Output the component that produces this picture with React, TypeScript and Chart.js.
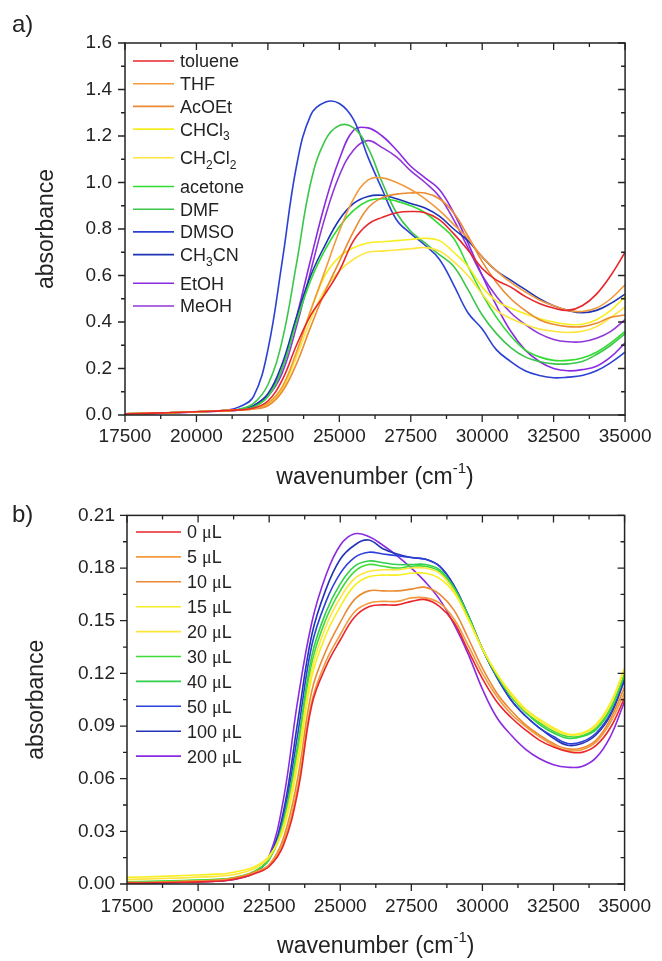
import React, { useEffect, useRef } from 'react';
import { Chart, registerables } from 'chart.js';

Chart.register(...registerables);

const FONT = '"Liberation Sans", Arial, Helvetica, sans-serif';
const SERIF = '"Liberation Serif", "Times New Roman", serif';
const INK = '#232323';

// ---------- shared x values (wavenumber, cm-1) ----------
const wavenumbers = [17500, 18500, 19500, 20500, 21000, 21500, 22000, 22500, 23000, 23500, 24000, 24500, 25000, 25500, 26000, 26500, 27000, 27500, 28000, 28500, 29000, 29500, 30000, 30500, 31000, 31500, 32000, 32500, 33000, 33500, 34000, 34500, 35000];

// ---------- panel a: solvents ----------
const solventLabels = ['toluene', 'THF', 'AcOEt', 'CHCl_3', 'CH_2Cl_2', 'acetone', 'DMF', 'DMSO', 'CH_3CN', 'EtOH', 'MeOH'];
const solventColors = ['#e8262c', '#f29a3c', '#ea8a32', '#f7ee20', '#fde53c', '#2fdc2f', '#3cc64a', '#2c40d4', '#1c33b4', '#8a2be2', '#9136d8'];

const absToluene = [0.005, 0.008, 0.012, 0.016, 0.019, 0.022, 0.03, 0.06, 0.15, 0.30, 0.43, 0.52, 0.62, 0.75, 0.82, 0.85, 0.87, 0.875, 0.87, 0.84, 0.78, 0.71, 0.63, 0.58, 0.55, 0.51, 0.48, 0.46, 0.45, 0.47, 0.52, 0.60, 0.70];
const absTHF = [0.005, 0.008, 0.012, 0.016, 0.019, 0.022, 0.027, 0.05, 0.12, 0.27, 0.45, 0.62, 0.79, 0.93, 1.01, 1.02, 1.0, 0.97, 0.93, 0.88, 0.82, 0.76, 0.68, 0.62, 0.57, 0.53, 0.495, 0.47, 0.45, 0.445, 0.46, 0.50, 0.56];
const absAcOEt = [0.005, 0.008, 0.012, 0.016, 0.019, 0.022, 0.026, 0.04, 0.10, 0.22, 0.38, 0.53, 0.66, 0.79, 0.89, 0.935, 0.95, 0.955, 0.955, 0.93, 0.87, 0.77, 0.66, 0.57, 0.50, 0.45, 0.41, 0.39, 0.38, 0.38, 0.395, 0.42, 0.43];
const absCHCl3 = [0.005, 0.008, 0.012, 0.016, 0.019, 0.022, 0.027, 0.05, 0.12, 0.27, 0.45, 0.60, 0.68, 0.72, 0.74, 0.745, 0.75, 0.755, 0.76, 0.75, 0.70, 0.64, 0.55, 0.49, 0.46, 0.435, 0.415, 0.40, 0.39, 0.39, 0.41, 0.45, 0.51];
const absCH2Cl2 = [0.005, 0.008, 0.012, 0.016, 0.019, 0.022, 0.026, 0.045, 0.11, 0.25, 0.41, 0.54, 0.62, 0.67, 0.70, 0.705, 0.71, 0.715, 0.72, 0.705, 0.66, 0.60, 0.52, 0.45, 0.415, 0.39, 0.37, 0.36, 0.355, 0.36, 0.38, 0.42, 0.465];
const absAcetone = [0.005, 0.008, 0.012, 0.016, 0.019, 0.023, 0.035, 0.08, 0.20, 0.40, 0.58, 0.71, 0.81, 0.88, 0.92, 0.93, 0.92, 0.90, 0.87, 0.82, 0.76, 0.64, 0.52, 0.42, 0.34, 0.28, 0.25, 0.235, 0.235, 0.245, 0.27, 0.31, 0.36];
const absDMF = [0.005, 0.008, 0.012, 0.016, 0.019, 0.025, 0.05, 0.13, 0.32, 0.65, 1.0, 1.18, 1.245, 1.235, 1.15, 1.0, 0.87, 0.79, 0.74, 0.69, 0.64, 0.54, 0.43, 0.35, 0.29, 0.25, 0.23, 0.22, 0.22, 0.23, 0.26, 0.30, 0.35];
const absDMSO = [0.005, 0.008, 0.012, 0.016, 0.02, 0.035, 0.08, 0.28, 0.66, 1.07, 1.29, 1.345, 1.34, 1.27, 1.11, 0.97, 0.84, 0.78, 0.73, 0.67, 0.56, 0.44, 0.37, 0.28, 0.23, 0.19, 0.17, 0.16, 0.163, 0.17, 0.19, 0.225, 0.27];
const absCH3CN = [0.005, 0.008, 0.012, 0.016, 0.019, 0.024, 0.04, 0.09, 0.22, 0.42, 0.60, 0.73, 0.84, 0.91, 0.94, 0.945, 0.93, 0.91, 0.89, 0.855, 0.80, 0.75, 0.68, 0.62, 0.58, 0.54, 0.50, 0.47, 0.45, 0.44, 0.45, 0.48, 0.52];
const absEtOH = [0.004, 0.007, 0.011, 0.015, 0.018, 0.022, 0.04, 0.09, 0.20, 0.42, 0.67, 0.91, 1.10, 1.225, 1.235, 1.20, 1.14, 1.07, 1.02, 0.97, 0.87, 0.74, 0.60, 0.47, 0.36, 0.28, 0.23, 0.20, 0.19, 0.195, 0.21, 0.25, 0.31];
const absMeOH = [0.004, 0.007, 0.011, 0.015, 0.018, 0.022, 0.035, 0.08, 0.18, 0.38, 0.62, 0.85, 1.03, 1.14, 1.18, 1.15, 1.11, 1.05, 1.00, 0.94, 0.84, 0.72, 0.60, 0.51, 0.44, 0.39, 0.35, 0.325, 0.315, 0.315, 0.33, 0.36, 0.41];

// ---------- panel b: added volume ----------
const volumeLabels = ['0 μL', '5 μL', '10 μL', '15 μL', '20 μL', '30 μL', '40 μL', '50 μL', '100 μL', '200 μL'];
const volumeColors = ['#e8262c', '#f29a3c', '#ea8a32', '#f7ee20', '#fde53c', '#3fdc3a', '#30d04a', '#2c40d8', '#2434b6', '#8a2be2'];

const absV0 = [0.0005, 0.0007, 0.001, 0.0015, 0.002, 0.0035, 0.006, 0.010, 0.022, 0.052, 0.102, 0.124, 0.139, 0.152, 0.158, 0.159, 0.159, 0.161, 0.162, 0.158, 0.149, 0.133, 0.117, 0.104, 0.095, 0.088, 0.082, 0.078, 0.0755, 0.075, 0.079, 0.089, 0.106];
const absV5 = [0.0008, 0.001, 0.0015, 0.002, 0.0025, 0.004, 0.0065, 0.011, 0.024, 0.055, 0.104, 0.127, 0.142, 0.155, 0.160, 0.161, 0.161, 0.163, 0.163, 0.160, 0.151, 0.136, 0.120, 0.107, 0.097, 0.090, 0.084, 0.079, 0.076, 0.0765, 0.081, 0.092, 0.109];
const absV10 = [0.0008, 0.001, 0.0015, 0.002, 0.0028, 0.0042, 0.007, 0.011, 0.026, 0.060, 0.110, 0.133, 0.149, 0.162, 0.167, 0.167, 0.167, 0.168, 0.169, 0.165, 0.156, 0.140, 0.123, 0.109, 0.099, 0.091, 0.085, 0.080, 0.077, 0.0775, 0.082, 0.094, 0.112];
const absV15 = [0.0038, 0.0042, 0.0048, 0.0055, 0.006, 0.0075, 0.010, 0.016, 0.031, 0.068, 0.118, 0.142, 0.158, 0.170, 0.175, 0.176, 0.176, 0.177, 0.177, 0.174, 0.166, 0.151, 0.134, 0.120, 0.109, 0.100, 0.094, 0.089, 0.0855, 0.086, 0.091, 0.103, 0.123];
const absV20 = [0.0025, 0.003, 0.0035, 0.0042, 0.0048, 0.0062, 0.009, 0.015, 0.033, 0.072, 0.122, 0.147, 0.163, 0.174, 0.178, 0.179, 0.179, 0.180, 0.180, 0.177, 0.167, 0.151, 0.134, 0.120, 0.108, 0.099, 0.093, 0.088, 0.085, 0.0855, 0.090, 0.102, 0.122];
const absV30 = [0.0012, 0.0016, 0.002, 0.0026, 0.003, 0.0045, 0.0075, 0.014, 0.034, 0.075, 0.126, 0.151, 0.167, 0.178, 0.182, 0.181, 0.180, 0.181, 0.181, 0.178, 0.168, 0.152, 0.134, 0.119, 0.107, 0.098, 0.092, 0.087, 0.084, 0.0845, 0.089, 0.100, 0.120];
const absV40 = [0.001, 0.0014, 0.0018, 0.0024, 0.0028, 0.0043, 0.0072, 0.014, 0.036, 0.079, 0.130, 0.155, 0.171, 0.181, 0.184, 0.183, 0.182, 0.182, 0.182, 0.179, 0.169, 0.153, 0.134, 0.119, 0.107, 0.098, 0.091, 0.086, 0.083, 0.084, 0.088, 0.099, 0.119];
const absV50 = [0.0008, 0.0011, 0.0014, 0.002, 0.0025, 0.004, 0.007, 0.014, 0.038, 0.085, 0.136, 0.161, 0.177, 0.186, 0.189, 0.188, 0.187, 0.186, 0.185, 0.181, 0.170, 0.153, 0.134, 0.118, 0.105, 0.096, 0.089, 0.084, 0.080, 0.081, 0.086, 0.097, 0.117];
const absV100 = [0.0006, 0.0009, 0.0012, 0.0018, 0.0023, 0.0038, 0.0068, 0.015, 0.041, 0.092, 0.142, 0.168, 0.185, 0.193, 0.196, 0.191, 0.188, 0.186, 0.185, 0.181, 0.170, 0.153, 0.134, 0.118, 0.105, 0.096, 0.089, 0.083, 0.079, 0.080, 0.085, 0.096, 0.116];
const absV200 = [0.0003, 0.0006, 0.001, 0.0015, 0.002, 0.0035, 0.0065, 0.016, 0.048, 0.104, 0.149, 0.176, 0.193, 0.1995, 0.198, 0.193, 0.187, 0.180, 0.172, 0.162, 0.148, 0.131, 0.111, 0.095, 0.085, 0.077, 0.0715, 0.068, 0.0665, 0.067, 0.072, 0.084, 0.104];

// axis settings
const xMin = 17500;
const xMax = 35000;
const xStep = 2500;
const yMaxA = 1.6;
const yStepA = 0.2;
const yMaxB = 0.21;
const yStepB = 0.03;

type Seg = { t: string; k: 'n' | 'sub' | 'sup' | 'mu' };

function parseLabel(s: string): Seg[] {
  const segs: Seg[] = [];
  let buf = '';
  const flush = () => { if (buf) { segs.push({ t: buf, k: 'n' }); buf = ''; } };
  for (let i = 0; i < s.length; i++) {
    const c = s[i];
    if (c === '_' && i + 1 < s.length) { flush(); segs.push({ t: s[i + 1], k: 'sub' }); i++; }
    else if (c === 'μ') { flush(); segs.push({ t: c, k: 'mu' }); }
    else buf += c;
  }
  flush();
  return segs;
}

function segFont(k: Seg['k'], size: number) {
  if (k === 'sub' || k === 'sup') return `${Math.round(size * 0.64)}px ${FONT}`;
  if (k === 'mu') return `${size}px ${SERIF}`;
  return `${size}px ${FONT}`;
}

function measureSegs(ctx: CanvasRenderingContext2D, segs: Seg[], size: number) {
  let w = 0;
  for (const s of segs) { ctx.font = segFont(s.k, size); w += ctx.measureText(s.t).width; }
  return w;
}

function drawSegs(ctx: CanvasRenderingContext2D, segs: Seg[], x: number, baseline: number, size: number) {
  let cx = x;
  ctx.textAlign = 'left';
  ctx.textBaseline = 'alphabetic';
  for (const s of segs) {
    ctx.font = segFont(s.k, size);
    let dy = 0;
    if (s.k === 'sub') dy = size * 0.26;
    if (s.k === 'sup') dy = -size * 0.5;
    ctx.fillText(s.t, cx, baseline + dy);
    cx += ctx.measureText(s.t).width;
  }
}

type Decor = {
  letter: string; letterBaseline: number;
  labels: string[]; colors: string[];
  lx1: number; lx2: number; ltx: number; ly0: number; lstep: number; lsubExtra: number; lsize: number;
  xTitleBaseline: number;
};

function makeDecorPlugin(d: Decor) {
  return {
    id: 'decor',
    afterDraw(chart: any) {
      const ctx: CanvasRenderingContext2D = chart.ctx;
      const { left, right, top, bottom } = chart.chartArea;
      const xs = chart.scales.x;
      const ys = chart.scales.y;
      ctx.save();
      // frame
      ctx.strokeStyle = INK;
      ctx.lineWidth = 1.5;
      ctx.strokeRect(left, top, right - left, bottom - top);
      // ticks
      ctx.lineWidth = 1.3;
      const MAJ = 7, MIN = 4;
      const majX: number[] = xs.ticks.map((t: any) => t.value);
      const minX = majX.slice(1).map((v, i) => (v + majX[i]) / 2);
      const majY: number[] = ys.ticks.map((t: any) => t.value);
      const minY = majY.slice(1).map((v, i) => (v + majY[i]) / 2);
      ctx.beginPath();
      const xt = (v: number, len: number) => {
        const p = xs.getPixelForValue(v);
        ctx.moveTo(p, bottom); ctx.lineTo(p, bottom + len);
        ctx.moveTo(p, top); ctx.lineTo(p, top + len);
      };
      const yt = (v: number, len: number) => {
        const p = ys.getPixelForValue(v);
        ctx.moveTo(left - len, p); ctx.lineTo(left, p);
        ctx.moveTo(right - len, p); ctx.lineTo(right, p);
      };
      majX.forEach((v) => xt(v, MAJ));
      minX.forEach((v) => xt(v, MIN));
      majY.forEach((v) => yt(v, MAJ));
      minY.forEach((v) => yt(v, MIN));
      ctx.stroke();

      // legend
      ctx.fillStyle = INK;
      let y = d.ly0;
      d.labels.forEach((lab, i) => {
        if (i > 0) y += d.lstep + (d.labels[i - 1].includes('_') ? d.lsubExtra : 0);
        ctx.strokeStyle = d.colors[i];
        ctx.lineWidth = 1.6;
        ctx.beginPath();
        ctx.moveTo(d.lx1, y);
        ctx.lineTo(d.lx2, y);
        ctx.stroke();
        drawSegs(ctx, parseLabel(lab), d.ltx, y + d.lsize * 0.358, d.lsize);
      });

      // x-axis title with superscript
      const title: Seg[] = [{ t: 'wavenumber (cm', k: 'n' }, { t: '-1', k: 'sup' }, { t: ')', k: 'n' }];
      const tsize = 23;
      const tw = measureSegs(ctx, title, tsize);
      drawSegs(ctx, title, (left + right) / 2 - tw / 2, d.xTitleBaseline, tsize);

      // panel letter
      ctx.font = `24px ${FONT}`;
      ctx.textAlign = 'left';
      ctx.textBaseline = 'alphabetic';
      ctx.fillText(d.letter, 12, d.letterBaseline);
      ctx.restore();
    },
  };
}

type PanelSpec = {
  height: number;
  padTop: number; padRight: number;
  yWidth: number; xHeight: number;
  yMax: number; yStep: number; dec: number;
  xPad: number; yPad: number; yTitlePad: number;
  series: number[][]; labels: string[]; colors: string[];
  decor: Decor;
};

function PanelChart({ spec, top }: { spec: PanelSpec; top: number }) {
  const ref = useRef<HTMLCanvasElement>(null);
  useEffect(() => {
    if (!ref.current) return;
    const chart = new Chart(ref.current, {
      type: 'line',
      data: {
        datasets: spec.series.map((vals, i) => ({
          label: spec.labels[i].replace(/_/g, ''),
          data: wavenumbers.map((w, j) => ({ x: w, y: vals[j] })),
          borderColor: spec.colors[i],
          backgroundColor: spec.colors[i],
          borderWidth: 1.6,
          pointRadius: 0,
          fill: false,
          tension: 0.4,
        })),
      },
      options: {
        responsive: false,
        animation: false,
        events: [],
        layout: { padding: { left: 0, top: spec.padTop, right: spec.padRight, bottom: 0 } },
        plugins: { legend: { display: false }, tooltip: { enabled: false }, title: { display: false } },
        scales: {
          x: {
            type: 'linear',
            min: xMin,
            max: xMax,
            grid: { display: false, drawTicks: false },
            border: { display: false },
            ticks: {
              stepSize: xStep,
              padding: spec.xPad,
              color: INK,
              autoSkip: false,
              maxRotation: 0,
              font: { family: FONT, size: 19 },
              callback: (v: any) => String(v),
            },
            afterFit: (s: any) => { s.height = spec.xHeight; },
          },
          y: {
            type: 'linear',
            min: 0,
            max: spec.yMax,
            grid: { display: false, drawTicks: false },
            border: { display: false },
            ticks: {
              stepSize: spec.yStep,
              padding: spec.yPad,
              color: INK,
              font: { family: FONT, size: 19 },
              callback: (v: any) => Number(v).toFixed(spec.dec),
            },
            title: {
              display: true,
              text: 'absorbance',
              color: INK,
              font: { family: FONT, size: 23 },
              padding: { top: spec.yTitlePad, bottom: 0 },
            },
            afterFit: (s: any) => { s.width = spec.yWidth; },
          },
        },
      },
      plugins: [makeDecorPlugin(spec.decor)],
    } as any);
    return () => chart.destroy();
  }, []);
  return (
    <canvas
      ref={ref}
      width={662}
      height={spec.height}
      style={{ position: 'absolute', left: 0, top, width: 662, height: spec.height, display: 'block' }}
    />
  );
}

const specA: PanelSpec = {
  height: 492,
  padTop: 43, padRight: 33,
  yWidth: 125, xHeight: 77,
  yMax: yMaxA, yStep: yStepA, dec: 1,
  xPad: 10.5, yPad: 13, yTitlePad: 33,
  series: [absToluene, absTHF, absAcOEt, absCHCl3, absCH2Cl2, absAcetone, absDMF, absDMSO, absCH3CN, absEtOH, absMeOH],
  labels: solventLabels,
  colors: solventColors,
  decor: {
    letter: 'a)', letterBaseline: 32,
    labels: solventLabels, colors: solventColors,
    lx1: 133, lx2: 174, ltx: 180, ly0: 61, lstep: 22.7, lsubExtra: 6, lsize: 18,
    xTitleBaseline: 484,
  },
};

const specB: PanelSpec = {
  height: 469,
  padTop: 20, padRight: 30,
  yWidth: 127, xHeight: 77,
  yMax: yMaxB, yStep: yStepB, dec: 2,
  xPad: 11, yPad: 12, yTitlePad: 23,
  series: [absV0, absV5, absV10, absV15, absV20, absV30, absV40, absV50, absV100, absV200],
  labels: volumeLabels,
  colors: volumeColors,
  decor: {
    letter: 'b)', letterBaseline: 30,
    labels: volumeLabels, colors: volumeColors,
    lx1: 136, lx2: 181, ltx: 187, ly0: 40, lstep: 24.9, lsubExtra: 0, lsize: 18,
    xTitleBaseline: 461,
  },
};

export default function App() {
  return (
    <div style={{ position: 'absolute', left: 0, top: 0, width: 662, height: 961, background: '#ffffff' }}>
      <PanelChart spec={specA} top={0} />
      <PanelChart spec={specB} top={492} />
    </div>
  );
}
